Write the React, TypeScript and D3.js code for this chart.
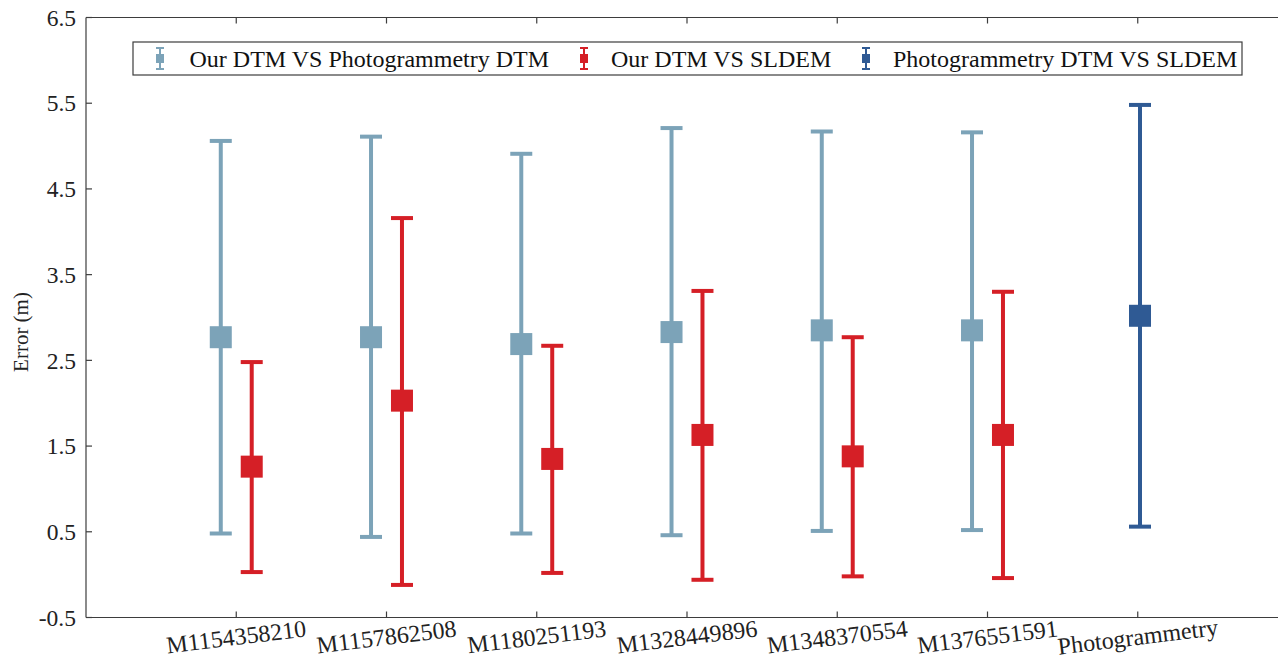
import React from "react";
import * as d3 from "d3";

// Scene IDs along the x axis; the last one only has the photogrammetry comparison
const categories = [
  "M1154358210",
  "M1157862508",
  "M1180251193",
  "M1328449896",
  "M1348370554",
  "M1376551591",
  "Photogrammetry",
];

// Our DTM vs Photogrammetry DTM (first six scenes)
const ourVsPhotoMean = [2.77, 2.77, 2.69, 2.83, 2.85, 2.85];
const ourVsPhotoHigh = [5.06, 5.11, 4.91, 5.21, 5.17, 5.16];
const ourVsPhotoLow = [0.48, 0.44, 0.48, 0.46, 0.51, 0.52];

// Our DTM vs SLDEM (first six scenes)
const ourVsSldemMean = [1.26, 2.03, 1.35, 1.63, 1.38, 1.63];
const ourVsSldemHigh = [2.48, 4.16, 2.67, 3.31, 2.77, 3.30];
const ourVsSldemLow = [0.03, -0.12, 0.02, -0.06, -0.02, -0.04];

// Photogrammetry DTM vs SLDEM (last category)
const photoVsSldemMean = [3.02];
const photoVsSldemHigh = [5.48];
const photoVsSldemLow = [0.56];

const yTicks = [-0.5, 0.5, 1.5, 2.5, 3.5, 4.5, 5.5, 6.5];

const legendLabels = [
  "Our DTM VS Photogrammetry DTM",
  "Our DTM VS SLDEM",
  "Photogrammetry DTM VS SLDEM",
];

const COLORS = ["#7CA3B8", "#D51F26", "#2F5A94"];
const AXIS = "#3d3d3d";
const FONT = "'Liberation Serif', 'Times New Roman', serif";

const W = 1278;
const H = 666;
const left = 86;
const top = 17.5;
const bottom = 617.5;

export default function App() {
  const x = d3.scaleLinear().domain([0, 8]).range([left, 1288]);
  const y = d3.scaleLinear().domain([-0.5, 6.5]).range([bottom, top]);

  const offset = 0.103;
  const capW = 22;
  const box = 22;
  const lw = 4;

  type Bar = { cx: number; mean: number; hi: number; lo: number; color: string };
  const bars: Bar[] = [];
  ourVsPhotoMean.forEach((m, i) =>
    bars.push({ cx: x(i + 1 - offset), mean: m, hi: ourVsPhotoHigh[i], lo: ourVsPhotoLow[i], color: COLORS[0] })
  );
  ourVsSldemMean.forEach((m, i) =>
    bars.push({ cx: x(i + 1 + offset), mean: m, hi: ourVsSldemHigh[i], lo: ourVsSldemLow[i], color: COLORS[1] })
  );
  photoVsSldemMean.forEach((m, i) =>
    bars.push({ cx: x(7 + 0.015), mean: m, hi: photoVsSldemHigh[i], lo: photoVsSldemLow[i], color: COLORS[2] })
  );

  const legendItems = [
    { icon: 160, text: 189.5 },
    { icon: 584, text: 611 },
    { icon: 866, text: 893 },
  ];

  return (
    <svg
      width={W}
      height={H}
      style={{ position: "absolute", left: 0, top: 0, background: "#fff" }}
      fontFamily={FONT}
    >
      <rect x={0} y={0} width={W} height={H} fill="#fff" />

      {/* error bars */}
      {bars.map((b, i) => (
        <g key={i} fill={b.color} stroke={b.color}>
          <line x1={b.cx} x2={b.cx} y1={y(b.lo)} y2={y(b.hi)} strokeWidth={lw} />
          <line x1={b.cx - capW / 2} x2={b.cx + capW / 2} y1={y(b.hi)} y2={y(b.hi)} strokeWidth={lw} />
          <line x1={b.cx - capW / 2} x2={b.cx + capW / 2} y1={y(b.lo)} y2={y(b.lo)} strokeWidth={lw} />
          <rect x={b.cx - box / 2} y={y(b.mean) - box / 2} width={box} height={box} stroke="none" />
        </g>
      ))}

      {/* axes */}
      <g stroke={AXIS} strokeWidth={1.2} fill="none">
        <line x1={left} x2={left} y1={top} y2={bottom} />
        <line x1={left} x2={W} y1={bottom} y2={bottom} />
        <line x1={left} x2={W} y1={top} y2={top} />
        {yTicks.map((t) => (
          <line key={t} x1={left} x2={left + 6} y1={y(t)} y2={y(t)} />
        ))}
        {categories.map((c, i) => (
          <g key={c}>
            <line x1={x(i + 1)} x2={x(i + 1)} y1={bottom} y2={bottom - 6} />
            <line x1={x(i + 1)} x2={x(i + 1)} y1={top} y2={top + 6} />
          </g>
        ))}
      </g>

      {yTicks.map((t) => (
        <text key={t} x={76} y={y(t)} dy="0.35em" textAnchor="end" fontSize={23.5} fill="#222">
          {t.toFixed(1)}
        </text>
      ))}

      {categories.map((c, i) => (
        <text
          key={c}
          transform={`translate(${x(i + 1)},${bottom + 19}) rotate(-7)`}
          textAnchor="middle"
          dy="0.35em"
          fontSize={24}
          fill="#222"
        >
          {c}
        </text>
      ))}

      <text
        transform={`translate(28,332) rotate(-90)`}
        textAnchor="middle"
        fontSize={21}
        fill="#222"
      >
        Error (m)
      </text>

      {/* legend */}
      <rect x={133} y={42} width={1109} height={33} fill="#fff" stroke={AXIS} strokeWidth={1.2} />
      {legendItems.map((it, i) => (
        <g key={i}>
          <g stroke={COLORS[i]} fill={COLORS[i]}>
            <line x1={it.icon} x2={it.icon} y1={48} y2={69} strokeWidth={2} />
            <line x1={it.icon - 4} x2={it.icon + 4} y1={48} y2={48} strokeWidth={2} />
            <line x1={it.icon - 4} x2={it.icon + 4} y1={69} y2={69} strokeWidth={2} />
            <rect x={it.icon - 4} y={54} width={8} height={9} stroke="none" />
          </g>
          <text x={it.text} y={58.5} dy="0.35em" fontSize={24} fill="#111">
            {legendLabels[i]}
          </text>
        </g>
      ))}
    </svg>
  );
}
